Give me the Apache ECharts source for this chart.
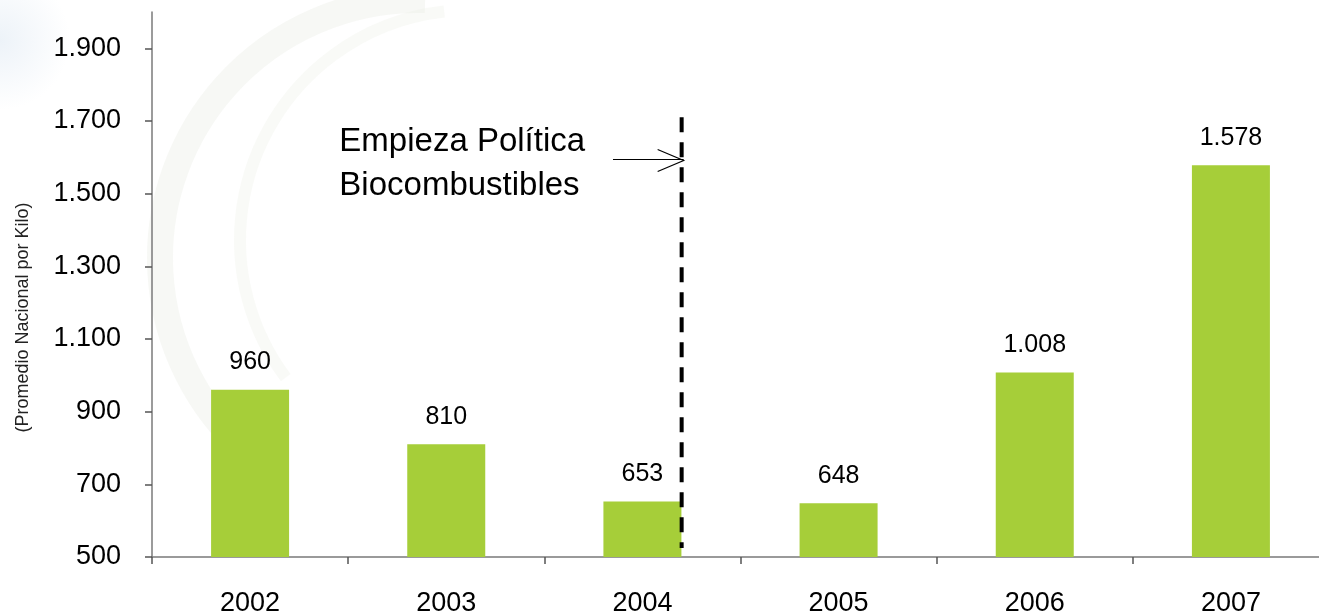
<!DOCTYPE html>
<html>
<head>
<meta charset="utf-8">
<script src="https://cdn.jsdelivr.net/npm/echarts@6/dist/echarts.min.js"></script>
<style>
html,body{margin:0;padding:0;background:#fff;}
#chart{width:1319px;height:613px;}
</style>
</head>
<body>
<div id="chart"></div>
<script>
// ---- data ----
const categories = ['2002', '2003', '2004', '2005', '2006', '2007'];
const values = [960, 810, 653, 648, 1008, 1578];
const yTickValues = [500, 700, 900, 1100, 1300, 1500, 1700, 1900];
const yAxisTitle = '(Promedio Nacional por Kilo)';
const annotationLines = ['Empieza Política', 'Biocombustibles'];
// annotation anchors in data units (category index, value)
const policyLineX = 2.2;
const policyLineRange = [525, 1710];
const arrowFromX = 1.85;
const arrowY = 1594;
const annotationTextPos = [0.455, 1583];

function fmt(v) {
  return String(v).replace(/\B(?=(\d{3})+(?!\d))/g, '.');
}

const FONT = '"Liberation Sans", Arial, sans-serif';
const chart = echarts.init(document.getElementById('chart'), null, {renderer: 'canvas'});

const option = {
  backgroundColor: '#ffffff',
  animation: false,
  graphic: [
    {
      type: 'arc', silent: true, z: -10,
      shape: {cx: 418, cy: 258, r: 258, startAngle: 2.3, endAngle: 4.74, clockwise: true},
      style: {stroke: 'rgba(232,236,226,0.35)', lineWidth: 26, fill: null}
    },
    {
      type: 'arc', silent: true, z: -10,
      shape: {cx: 470, cy: 240, r: 230, startAngle: 2.5, endAngle: 4.6, clockwise: true},
      style: {stroke: 'rgba(236,239,230,0.3)', lineWidth: 12, fill: null}
    },
    {
      type: 'circle', silent: true, z: -10,
      shape: {cx: 0, cy: 40, r: 70},
      style: {fill: new echarts.graphic.RadialGradient(0.5, 0.5, 0.5, [
        {offset: 0, color: 'rgba(215,228,240,0.45)'},
        {offset: 1, color: 'rgba(215,228,240,0)'}
      ])}
    }
  ],
  grid: {left: 152, right: -10, top: 12, bottom: 56, containLabel: false, outerBoundsMode: 'none'},
  xAxis: [
    {
      type: 'category',
      data: categories,
      boundaryGap: true,
      axisLine: {show: true, lineStyle: {color: '#7a7a7a', width: 1.5}},
      axisTick: {show: true, inside: false, length: 7, alignWithLabel: false, lineStyle: {color: '#555', width: 1.5}},
      axisLabel: {color: '#000', fontFamily: FONT, fontSize: 27, margin: 33},
      splitLine: {show: false}
    },
    {
      type: 'value',
      min: -0.5,
      max: categories.length - 0.5,
      show: false,
      position: 'bottom'
    }
  ],
  yAxis: {
    type: 'value',
    min: 500,
    max: 2000,
    name: yAxisTitle,
    nameLocation: 'middle',
    nameRotate: 90,
    nameGap: 120,
    nameTextStyle: {color: '#222', fontFamily: FONT, fontSize: 18, padding: [0, 66, 0, 0]},
    axisLine: {show: true, onZero: false, lineStyle: {color: '#7a7a7a', width: 1.5}},
    axisTick: {show: true, inside: false, length: 7, customValues: yTickValues, lineStyle: {color: '#555', width: 1.5}},
    axisLabel: {
      show: true, color: '#000', fontFamily: FONT, fontSize: 27, margin: 31,
      customValues: yTickValues,
      formatter: function (v) { return fmt(v); }
    },
    splitLine: {show: false}
  },
  series: [
    {
      type: 'bar',
      data: values,
      barWidth: 78,
      itemStyle: {color: '#A6CE39'},
      label: {
        show: true, position: 'top', distance: 15,
        color: '#000', fontFamily: FONT, fontSize: 25,
        formatter: function (p) { return fmt(p.value); }
      },
      z: 2
    },
    {
      type: 'custom',
      xAxisIndex: 1,
      yAxisIndex: 0,
      data: [[0]],
      silent: true,
      z: 5,
      clip: false,
      renderItem: function (params, api) {
        const top = api.coord([policyLineX, policyLineRange[1]]);
        const bottom = api.coord([policyLineX, policyLineRange[0]]);
        const aFrom = api.coord([arrowFromX, arrowY]);
        const aTo = api.coord([policyLineX, arrowY]);
        const txt = api.coord(annotationTextPos);
        return {
          type: 'group',
          children: [
            {
              type: 'line',
              shape: {x1: top[0], y1: top[1], x2: bottom[0], y2: bottom[1]},
              style: {stroke: '#000', lineWidth: 4, lineDash: [15, 10]}
            },
            {
              type: 'line',
              shape: {x1: aFrom[0], y1: aFrom[1], x2: aTo[0] + 2, y2: aTo[1]},
              style: {stroke: '#000', lineWidth: 1.2}
            },
            {
              type: 'polyline',
              shape: {points: [[aTo[0] - 24, aTo[1] - 10], [aTo[0] + 2, aTo[1] + 1], [aTo[0] - 24, aTo[1] + 12]]},
              style: {stroke: '#000', lineWidth: 1.2, fill: null}
            },
            {
              type: 'text',
              x: txt[0],
              y: txt[1],
              style: {
                text: annotationLines.join('\n'),
                fill: '#000',
                font: '33px ' + FONT,
                lineHeight: 44,
                align: 'left',
                verticalAlign: 'middle'
              }
            }
          ]
        };
      }
    }
  ]
};

chart.setOption(option);
</script>
</body>
</html>
